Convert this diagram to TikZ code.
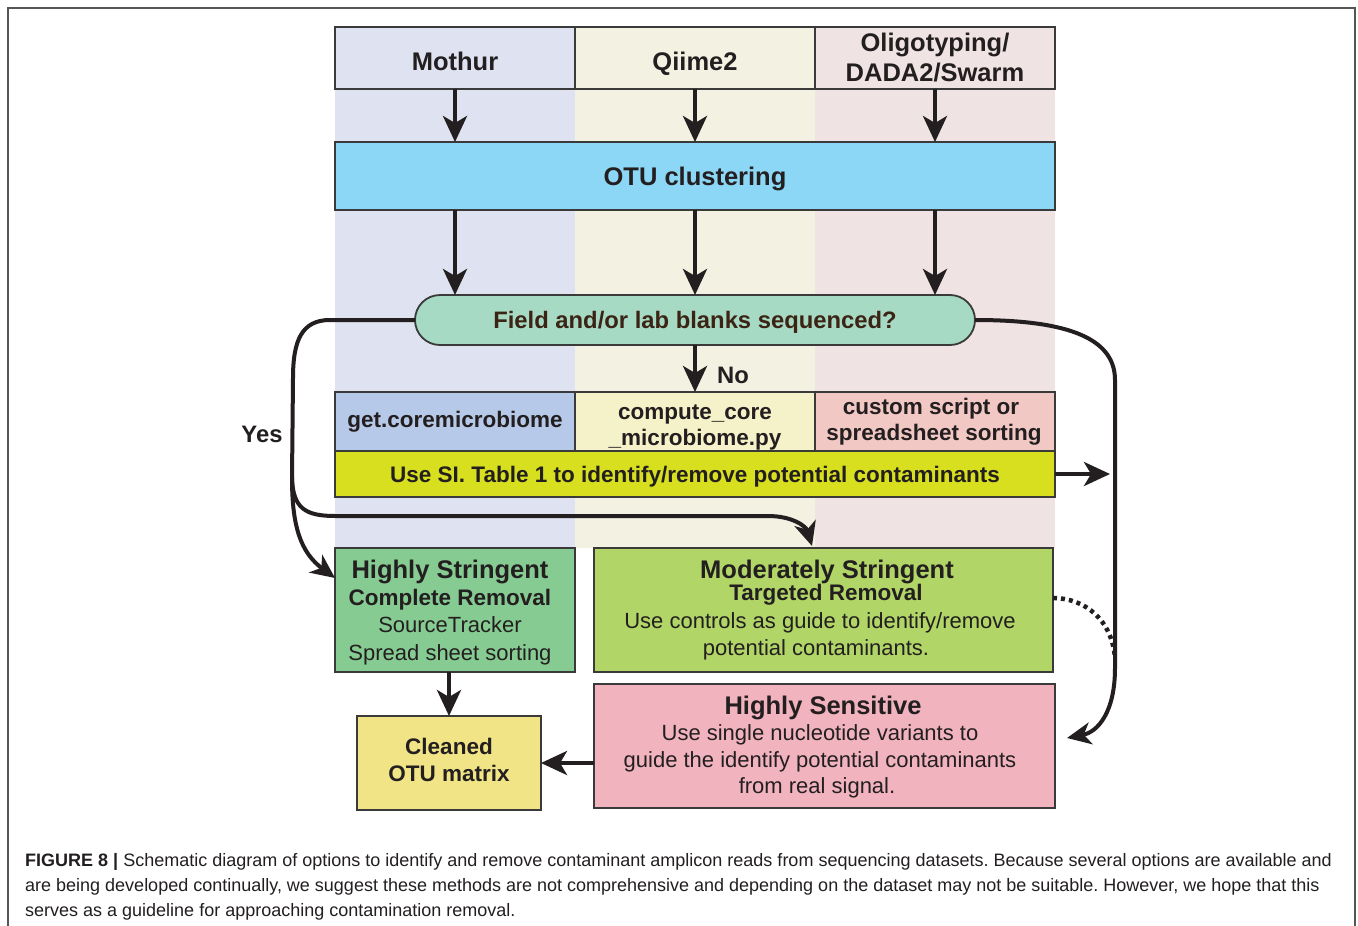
\documentclass[tikz,border=0pt]{standalone}
\usepackage{fontspec}
\setmainfont{Liberation Sans}
\usetikzlibrary{arrows.meta,calc}
\definecolor{bgA}{HTML}{DFE3F1}
\definecolor{bgB}{HTML}{F3F1E2}
\definecolor{bgC}{HTML}{F0E3E3}
\definecolor{otucol}{HTML}{8CD7F6}
\definecolor{deccol}{HTML}{A6DAC4}
\definecolor{rowA}{HTML}{B7C9E8}
\definecolor{rowB}{HTML}{F5F1C9}
\definecolor{rowC}{HTML}{F2C8C4}
\definecolor{barcol}{HTML}{D7DF1F}
\definecolor{hscol}{HTML}{86CB92}
\definecolor{modcol}{HTML}{B1D566}
\definecolor{hsencol}{HTML}{F1B3BD}
\definecolor{cleancol}{HTML}{F1E486}
\definecolor{edgecol}{HTML}{3A3A3A}
\definecolor{txtcol}{HTML}{231F20}
\definecolor{deccolt}{HTML}{3C2415}
\definecolor{framecol}{HTML}{555555}
\newcommand\myfH{\fontsize{25.5}{28}\selectfont\bfseries}
\newcommand\myfB{\fontsize{22.5}{25}\selectfont\bfseries}
\newcommand\myfR{\fontsize{22}{25}\selectfont}
\newcommand\myfD{\fontsize{23.8}{26}\selectfont\bfseries}
\newcommand\myfC{\fontsize{18}{20}\selectfont\frenchspacing}
\begin{document}
\begin{tikzpicture}[x=1pt,y=-1pt,
  box/.style={draw=edgecol,line width=1.8pt,inner sep=0pt,outer sep=0pt,text=txtcol},
  txt/.style={inner sep=0pt,anchor=base,text=txtcol},
  arr/.style={line width=4pt,draw=txtcol,-{Stealth[length=26pt,width=24pt,inset=7pt]}},
  conn/.style={line width=4pt,draw=txtcol},
  connarr/.style={conn,-{Stealth[length=24pt,width=22pt,inset=7pt]}},
  dotconn/.style={line width=4.5pt,draw=txtcol,dash pattern=on 4pt off 4pt},
  capt/.style={inner sep=0pt,anchor=base west,text=txtcol,font=\myfC}]
\useasboundingbox (0,0) rectangle (1358,926);
\clip (0,0) rectangle (1358,926);
\fill[white] (0,0) rectangle (1358,926);
\draw[framecol,line width=1.5pt] (8,8) rectangle (1355,980);
% column backgrounds
\fill[bgA] (335,27) rectangle (575,548);
\fill[bgB] (575,27) rectangle (815,548);
\fill[bgC] (815,27) rectangle (1055,548);
% headers
\node[box,fill=bgA,minimum width=240pt,minimum height=62pt] (mothur) at (455,58) {};
\node[txt,font=\myfH] (mothur-t) at (455,70) {Mothur};
\node[box,fill=bgB,minimum width=240pt,minimum height=62pt] (qiime) at (695,58) {};
\node[txt,font=\myfH] (qiime-t) at (695,70) {Qiime2};
\node[box,fill=bgC,minimum width=240pt,minimum height=62pt] (oligo) at (935,58) {};
\node[txt,font=\myfH] (oligo-t1) at (935,51) {Oligotyping/};
\node[txt,font=\myfH] (oligo-t2) at (935,81) {DADA2/Swarm};
% OTU
\node[box,fill=otucol,minimum width=720pt,minimum height=68pt] (otu) at (695,176) {};
\node[txt,font=\myfH] (otu-t) at (695,185) {OTU clustering};
% decision
\node[box,fill=deccol,rounded corners=25pt,minimum width=560pt,minimum height=50pt] (dec) at (695,320) {};
\node[txt,font=\myfD,text=deccolt] (dec-t) at (695,328.5) {Field and/or lab blanks sequenced?};
% row
\node[box,fill=rowA,minimum width=240pt,minimum height=59pt] (getcore) at (455,421.5) {};
\node[txt,font=\myfB] (getcore-t) at (455,427) {get.coremicrobiome};
\node[box,fill=rowB,minimum width=240pt,minimum height=59pt] (compute) at (695,421.5) {};
\node[txt,font=\myfB] (compute-t1) at (695,419) {compute\_core};
\node[txt,font=\myfB] (compute-t2) at (695,445) {\_microbiome.py};
\node[box,fill=rowC,minimum width=240pt,minimum height=59pt] (custom) at (935,421.5) {};
\node[txt,font=\myfB] (custom-t1) at (931,414) {custom script or};
\node[txt,font=\myfB] (custom-t2) at (934,440) {spreadsheet sorting};
% bar
\node[box,fill=barcol,minimum width=720pt,minimum height=46pt] (bar) at (695,474) {};
\node[txt,font=\myfB] (bar-t) at (695,482) {Use SI. Table 1 to identify/remove potential contaminants};
% bottom boxes
\node[box,fill=hscol,minimum width=240pt,minimum height=124pt] (hs) at (455,610) {};
\node[txt,font=\myfH] (hs-t1) at (450,578) {Highly Stringent};
\node[txt,font=\myfB] (hs-t2) at (450,605) {Complete Removal};
\node[txt,font=\myfR] (hs-t3) at (450,632) {SourceTracker};
\node[txt,font=\myfR] (hs-t4) at (450,660) {Spread sheet sorting};
\node[box,fill=modcol,minimum width=459pt,minimum height=124pt] (mod) at (823.5,610) {};
\node[txt,font=\myfH] (mod-t1) at (827,578) {Moderately Stringent};
\node[txt,font=\myfB] (mod-t2) at (826,600) {Targeted Removal};
\node[txt,font=\myfR] (mod-t3) at (820,628) {Use controls as guide to identify/remove};
\node[txt,font=\myfR] (mod-t4) at (816,655) {potential contaminants.};
\node[box,fill=hsencol,minimum width=461pt,minimum height=124pt] (hsen) at (824.5,746) {};
\node[txt,font=\myfH] (hsen-t1) at (823,714) {Highly Sensitive};
\node[txt,font=\myfR] (hsen-t2) at (820,740) {Use single nucleotide variants to};
\node[txt,font=\myfR] (hsen-t3) at (820,767) {guide the identify potential contaminants};
\node[txt,font=\myfR] (hsen-t4) at (817,793) {from real signal.};
\node[box,fill=cleancol,minimum width=184pt,minimum height=94pt] (cleaned) at (449,763) {};
\node[txt,font=\myfB] (cleaned-t1) at (449,754) {Cleaned};
\node[txt,font=\myfB] (cleaned-t2) at (449,781) {OTU matrix};
% labels
\node[txt,font=\myfD] (no) at (733,383) {No};
\node[txt,font=\myfD] (yes) at (262,442) {Yes};
% coordinates
\coordinate (yesj) at (292,478);
\coordinate (modin) at (812,546);
\coordinate (rj) at (1115,668);
\coordinate (rjd) at (1115,658);
\coordinate (hsenin) at (1067,738);
\coordinate (barout) at (1110,474);
% arrows
\draw[arr] (mothur.south) -- (mothur.south |- otu.north);
\draw[arr] (qiime.south) -- (qiime.south |- otu.north);
\draw[arr] (oligo.south) -- (oligo.south |- otu.north);
\draw[arr] (otu.south -| mothur.south) -- (mothur.south |- dec.north);
\draw[arr] (otu.south -| qiime.south) -- (qiime.south |- dec.north);
\draw[arr] (otu.south -| oligo.south) -- (oligo.south |- dec.north);
\draw[arr] (dec.south) -- (compute.north);
\draw[arr] (bar.east) -- (barout);
\draw[arr] (hs.south -| cleaned.north) -- (cleaned.north);
\draw[arr] (hsen.west |- cleaned.east) -- (cleaned.east);
% yes connectors
\draw[connarr] (dec.west) -- (330,320) .. controls (302,320) and (293,340) .. (293,378) -- (yesj) .. controls (292,525) and (300,552) .. ([yshift=-30pt]hs.north west);
\draw[connarr] (yesj) .. controls (293,508) and (305,516) .. (335,516) -- (768,516) .. controls (792,516) and (806,526) .. (modin);
% right connector
\draw[connarr] (dec.east) .. controls (1060,320) and (1115,335) .. (1115,380) -- (rj) .. controls (1115,712) and (1098,732) .. (hsenin);
\draw[dotconn] ([yshift=12pt]mod.east) .. controls (1085,598) and (1112,620) .. (rjd);
% caption
\node[capt] (cap1) at (25,866) {\textbf{FIGURE 8 |} Schematic diagram of options to identify and remove contaminant amplicon reads from sequencing datasets. Because several options are available and};
\node[capt] (cap2) at (25,891) {are being developed continually, we suggest these methods are not comprehensive and depending on the dataset may not be suitable. However, we hope that this};
\node[capt] (cap3) at (25,916) {serves as a guideline for approaching contamination removal.};
\end{tikzpicture}
\end{document}
